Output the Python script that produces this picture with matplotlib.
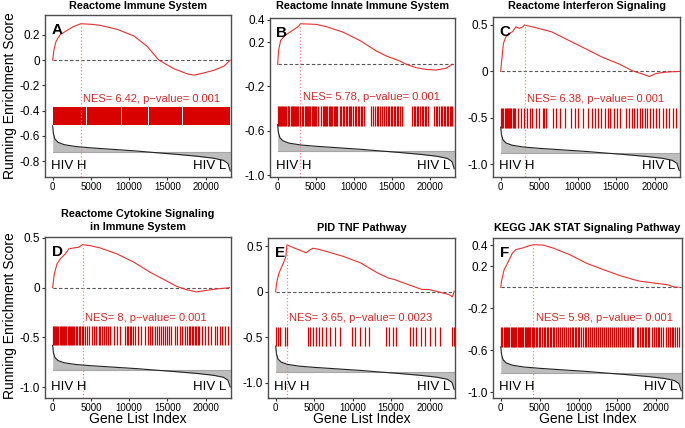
import numpy as np
import matplotlib.pyplot as plt

plt.rcParams['font.family'] = ['Liberation Sans', 'DejaVu Sans']

N_GENES = 23200

titles = ["Reactome Immune System", "Reactome Innate Immune System",
          "Reactome Interferon Signaling",
          "Reactome Cytokine Signaling\nin Immune System", "PID TNF Pathway",
          "KEGG JAK STAT Signaling Pathway"]
letters = ["A", "B", "C", "D", "E", "F"]
nes_labels = ["NES= 6.42, p\u2212value= 0.001", "NES= 5.78, p\u2212value= 0.001",
              "NES= 6.38, p\u2212value= 0.001", "NES= 8, p\u2212value= 0.001",
              "NES= 3.65, p\u2212value= 0.0023", "NES= 5.98, p\u2212value= 0.001"]

# running enrichment score, x in thousands of genes
es_x_A = [0, 0.175, 0.44, 0.96, 1.84, 2.71, 3.7, 5.12, 6.21, 8.4, 10.59, 12.34, 13.87, 15.84, 17.59, 18.47, 19.78, 21.09, 22.41, 23.19]
es_y_A = [0, 0.083, 0.148, 0.2, 0.234, 0.265, 0.288, 0.283, 0.275, 0.244, 0.192, 0.109, 0, -0.068, -0.109, -0.119, -0.101, -0.08, -0.047, 0]
es_x_B = [0, 0.13, 0.39, 0.96, 1.6, 2.27, 2.7, 3.0, 4.2, 5.1, 6.4, 8.6, 10.8, 12.9, 14.2, 16.0, 16.9, 18.2, 19.5, 20.8, 22.1, 22.96]
es_y_B = [0, 0.123, 0.215, 0.26, 0.29, 0.32, 0.34, 0.366, 0.363, 0.36, 0.34, 0.29, 0.215, 0.123, 0.077, 0.031, 0, -0.031, -0.046, -0.052, -0.037, 0]
es_x_C = [0, 0.13, 0.35, 0.66, 1.1, 1.54, 1.98, 2.42, 2.86, 3.1, 4.4, 6.6, 8.8, 11.0, 13.2, 15.4, 17.1, 18.5, 19.3, 20.2, 21.5, 23.3]
es_y_C = [0, 0.117, 0.3, 0.37, 0.41, 0.427, 0.48, 0.464, 0.48, 0.5, 0.474, 0.427, 0.336, 0.245, 0.153, 0.08, 0.007, -0.03, -0.055, -0.022, -0.007, 0]
es_x_D = [0, 0.22, 0.57, 1.0, 1.65, 2.1, 2.74, 3.4, 3.9, 4.9, 6.2, 8.4, 10.6, 12.7, 14.9, 16.2, 17.5, 18.8, 20.1, 21.4, 23.1]
es_y_D = [0, 0.14, 0.24, 0.29, 0.34, 0.39, 0.40, 0.407, 0.433, 0.423, 0.4, 0.34, 0.257, 0.157, 0.067, 0.013, -0.02, -0.043, -0.027, -0.013, 0]
es_x_E = [0, 0.09, 0.22, 0.44, 0.8, 1.1, 1.32, 1.46, 2.2, 3.1, 3.97, 4.4, 4.86, 5.5, 6.6, 8.8, 11.0, 13.2, 14.6, 15.45, 17.2, 19.0, 19.9, 21.6, 22.5, 22.96, 23.2]
es_y_E = [0, 0.08, 0.135, 0.208, 0.28, 0.336, 0.39, 0.518, 0.49, 0.46, 0.43, 0.46, 0.48, 0.47, 0.445, 0.39, 0.32, 0.21, 0.153, 0.135, 0.08, 0.026, 0.026, -0.01, -0.03, -0.055, 0.007]
es_x_F = [0, 0.09, 0.43, 0.87, 1.5, 1.95, 2.8, 3.7, 4.2, 5.4, 6.7, 8.9, 11.0, 13.2, 15.4, 17.1, 18.0, 19.7, 21.4, 22.3, 22.8]
es_y_F = [0, 0.057, 0.168, 0.23, 0.327, 0.36, 0.375, 0.397, 0.406, 0.403, 0.375, 0.31, 0.23, 0.168, 0.11, 0.073, 0.057, 0.041, 0.025, 0.003, 0]

# gene set hits, thousands of genes (A is so dense that it is given as spans)
hit_spans_A = [(0, 4.4), (4.55, 8.9), (9.05, 12.4), (12.55, 16.9), (17.0, 23.2)]
hits_B = [0.05, 0.15, 0.3, 0.45, 0.6, 0.7, 0.85, 1.0, 1.15, 1.3, 1.4, 1.55, 1.7, 1.85, 2.0, 2.1, 2.25,
          2.4, 2.55, 2.7, 2.9, 3.15, 3.4, 3.55, 3.7, 3.85, 4.0, 4.15, 4.3, 4.5, 4.65, 4.8, 4.95, 5.1,
          5.25, 5.75, 5.9, 6.05, 6.2, 6.4, 6.55, 6.7, 6.85, 7.0, 7.2, 7.35, 7.5, 7.7, 7.85, 8.15, 8.35,
          8.55, 8.75, 8.95, 9.15, 9.35, 9.55, 9.7, 9.9, 10.1, 10.3, 10.5, 10.7, 10.9, 11.1, 11.3, 12.3,
          12.55, 12.8, 13.0, 13.2, 13.45, 13.7, 13.95, 14.25, 14.45, 14.65, 14.85, 15.05, 15.25, 15.45,
          15.65, 15.85, 16.05, 16.3, 17.7, 17.9, 18.1, 18.3, 18.5, 18.7, 18.9, 19.1, 19.3, 19.5, 19.7,
          20.6, 20.8, 21.0, 21.2, 21.4, 21.6, 21.8, 22.0, 22.2, 22.4, 22.6, 22.8, 22.96]
hits_C = [0.05, 0.2, 0.35, 0.5, 0.65, 0.8, 0.95, 1.1, 1.25, 1.4, 1.55, 1.7, 1.85, 2.24, 2.59, 3.03,
          3.47, 3.82, 4.13, 4.57, 5.01, 5.45, 5.67, 5.89, 6.77, 7.21, 7.65, 8.3, 9.18, 9.62, 10.06, 10.72,
          11.38, 11.82, 12.26, 12.7, 13.05, 13.58, 13.93, 14.24, 14.68, 15.12, 15.56, 16.22, 16.66, 17.1,
          17.32, 17.76, 18.06, 18.41, 18.72, 19.07, 19.38, 19.73, 20.17, 20.61, 21.05, 21.49, 21.93,
          22.37, 22.81]
hits_D = [0.05, 0.15, 0.3, 0.45, 0.6, 0.75, 0.9, 1.05, 1.2, 1.35, 1.5, 1.65, 1.8, 1.95, 2.1, 2.25, 2.4,
          2.55, 2.7, 2.85, 3.0, 3.2, 3.4, 3.6, 3.8, 4.0, 4.2, 4.5, 4.8, 5.1, 5.4, 5.7, 6.0, 6.2, 6.45,
          6.7, 6.95, 7.2, 7.5, 7.95, 8.4, 8.85, 9.5, 9.7, 9.9, 10.1, 10.3, 10.5, 10.75, 11.2, 11.6, 12.1,
          12.4, 12.7, 12.95, 13.4, 13.65, 13.9, 14.15, 14.4, 14.65, 14.9, 15.15, 15.4, 16.0, 16.3, 16.6,
          16.9, 17.3, 17.55, 17.75, 17.95, 18.15, 18.35, 18.55, 18.75, 18.95, 19.15, 19.45, 19.9, 20.3,
          20.75, 21.2, 21.5, 21.8, 22.1, 22.5, 22.86]
hits_E = [0.04, 0.31, 0.62, 1.19, 1.5, 4.15, 4.46, 4.81, 5.25, 5.61, 6.05, 6.49, 7.02, 7.68, 8.34,
          9.89, 10.33, 11.0, 11.66, 12.1, 14.28, 14.74, 15.18, 15.63, 17.4, 17.84, 18.28, 18.94, 19.39,
          20.05, 20.7, 21.37, 22.91, 23.2]
hits_F = [0.05, 0.2, 0.35, 0.5, 0.65, 0.8, 0.95, 1.1, 1.25, 1.4, 1.55, 1.7, 1.85, 2.0, 2.15, 2.3, 2.45,
          2.6, 2.75, 2.9, 3.05, 3.2, 3.35, 3.5, 3.65, 3.8, 3.95, 4.1, 4.25, 4.5, 4.7, 4.9, 5.1, 5.3, 5.5,
          5.7, 5.9, 6.1, 6.3, 6.5, 6.7, 6.9, 7.1, 7.35, 7.6, 7.85, 8.1, 8.35, 8.6, 8.85, 9.1, 9.3, 9.5,
          9.7, 9.9, 10.1, 10.3, 10.55, 10.8, 11.0, 11.2, 11.45, 11.7, 11.95, 12.2, 12.5, 12.75, 13.0,
          13.25, 13.5, 13.8, 14.05, 14.3, 14.55, 14.8, 15.1, 15.35, 15.6, 15.85, 16.1, 16.35, 16.6, 16.85,
          17.05, 17.5, 17.7, 17.9, 18.1, 18.3, 18.5, 18.7, 18.9, 19.1, 19.4, 19.65, 19.9, 20.15, 20.4,
          20.65, 20.9, 21.2, 21.45, 21.7, 21.95, 22.2, 22.45, 22.7, 22.9]

# ranked list metric (shared gene list), relative units
rank_x = [0, 0.1, 0.3, 0.7, 1.5, 3.0, 5.0, 8.0, 11.0, 13.0, 16.0, 19.0, 21.0, 22.3, 22.9, 23.2]
rank_metric = [1.0, 0.7, 0.5, 0.38, 0.29, 0.22, 0.17, 0.11, 0.05, 0.0, -0.07, -0.15, -0.22, -0.3, -0.42, -0.7]

es_x = [es_x_A, es_x_B, es_x_C, es_x_D, es_x_E, es_x_F]
es_y = [es_y_A, es_y_B, es_y_C, es_y_D, es_y_E, es_y_F]
hits = [None, hits_B, hits_C, hits_D, hits_E, hits_F]

# layout: axes box in pixels (left, top, right, bottom), y range, y ticks,
# hit band, ranked list baseline and top, NES text height
W, H = 685, 428
layout = [
    dict(box=(45, 15, 231, 177), ylim=(-0.925, 0.357), yt=[0.2, 0, -0.2, -0.4, -0.6, -0.8],
         band=(-0.517, -0.369), base=-0.73, top=-0.52, nes=-0.306),
    dict(box=(270, 18, 455, 177), ylim=(-1.018, 0.418), yt=[0.4, 0.2, -0.2, -0.6, -1.0],
         band=(-0.555, -0.375), base=-0.78, top=-0.546, nes=-0.30),
    dict(box=(493, 17, 680, 177), ylim=(-1.137, 0.586), yt=[0.5, 0, -0.5, -1.0],
         band=(-0.605, -0.395), base=-0.875, top=-0.6, nes=-0.30),
    dict(box=(45, 237, 231, 398), ylim=(-1.11, 0.51), yt=[0.5, 0, -0.5, -1.0],
         band=(-0.577, -0.387), base=-0.827, top=-0.58, nes=-0.31),
    dict(box=(268, 238, 455, 398), ylim=(-1.17, 0.593), yt=[0.5, 0, -0.5, -1.0],
         band=(-0.60, -0.386), base=-0.88, top=-0.6, nes=-0.287),
    dict(box=(493, 238, 682, 398), ylim=(-1.055, 0.47), yt=[0.4, 0.2, -0.2, -0.6, -1.0],
         band=(-0.568, -0.383), base=-0.814, top=-0.568, nes=-0.296),
]

RED = '#d90000'
LINE_RED = '#e8312f'

fig = plt.figure(figsize=(W / 100, H / 100), dpi=100)

for i in range(6):
    lay = layout[i]
    l, t, r, b = lay['box']
    ax = fig.add_axes([l / W, 1 - b / H, (r - l) / W, (b - t) / H])

    x = np.array(es_x[i]) * 1000
    y = np.array(es_y[i])
    ax.plot([0, N_GENES], [0, 0], color='#555555', lw=0.8, ls=(0, (3, 2)))
    ax.plot(x, y, color=LINE_RED, lw=0.8)

    k = int(np.argmax(y))
    ax.vlines(x[k], lay['ylim'][0], y[k], color='#f08a8a', lw=0.9, linestyles=':')

    b0, b1 = lay['band']
    if hits[i] is None:
        spans = [(s * 1000, (e - s) * 1000) for s, e in hit_spans_A]
        ax.broken_barh(spans, (b0, b1 - b0), facecolors=RED)
    else:
        ax.vlines(np.array(hits[i]) * 1000, b0, b1, color=RED, lw=0.9)

    rx = np.array(rank_x) * 1000
    ry = lay['base'] + np.array(rank_metric) * (lay['top'] - lay['base'])
    ax.fill_between(rx, ry, lay['base'], color='#bdbdbd', lw=0)
    ax.plot([0, N_GENES], [lay['base'], lay['base']], color='#a6a6a6', lw=0.8)
    ax.plot(rx, ry, color='#222222', lw=0.8)

    ax.text(x[k] + 300, lay['nes'], nes_labels[i], color='#d42a2a', fontsize=8,
            ha='left', va='center')
    ax.text(0.035, 0.905, letters[i], transform=ax.transAxes, fontsize=11,
            fontweight='bold', ha='left', va='center')
    ax.text(0.033, 0.07, 'HIV H', transform=ax.transAxes, fontsize=9.5, ha='left', va='center')
    ax.text(0.977, 0.07, 'HIV L', transform=ax.transAxes, fontsize=9.5, ha='right', va='center')

    ax.set_xlim(-1000, 23300)
    ax.set_ylim(*lay['ylim'])
    ax.set_xticks([0, 5000, 10000, 15000, 20000])
    ax.set_xticklabels(['0', '5000', '10000', '15000', '20000'], fontsize=7)
    ax.set_yticks(lay['yt'])
    ax.set_yticklabels(['0' if v == 0 else f'{v:.1f}' for v in lay['yt']], fontsize=8.5)
    ax.tick_params(direction='out', length=2.5, width=0.8, color='#333333', pad=1)
    for s in ax.spines.values():
        s.set_color('#4d4d4d')
        s.set_linewidth(1.0)

    tx = (l + r) / 2
    ty = 6 if i < 3 else 228
    if i == 3:
        ty = 220.5
    fig.text(tx / W, 1 - ty / H, titles[i], ha='center', va='center', fontsize=7.8,
             fontweight='bold', family=['Liberation Sans Narrow', 'Liberation Sans'],
             linespacing=1.45)

fig.text(10 / W, 1 - 96 / H, 'Running Enrichment Score', rotation=90, ha='center',
         va='center', fontsize=10)
fig.text(10 / W, 1 - 316 / H, 'Running Enrichment Score', rotation=90, ha='center',
         va='center', fontsize=10)
for i in range(3, 6):
    l, t, r, b = layout[i]['box']
    fig.text((l + r) / 2 / W, 1 - 419 / H, 'Gene List Index', ha='center', va='center', fontsize=10)

fig.savefig('out.png', dpi=100)
